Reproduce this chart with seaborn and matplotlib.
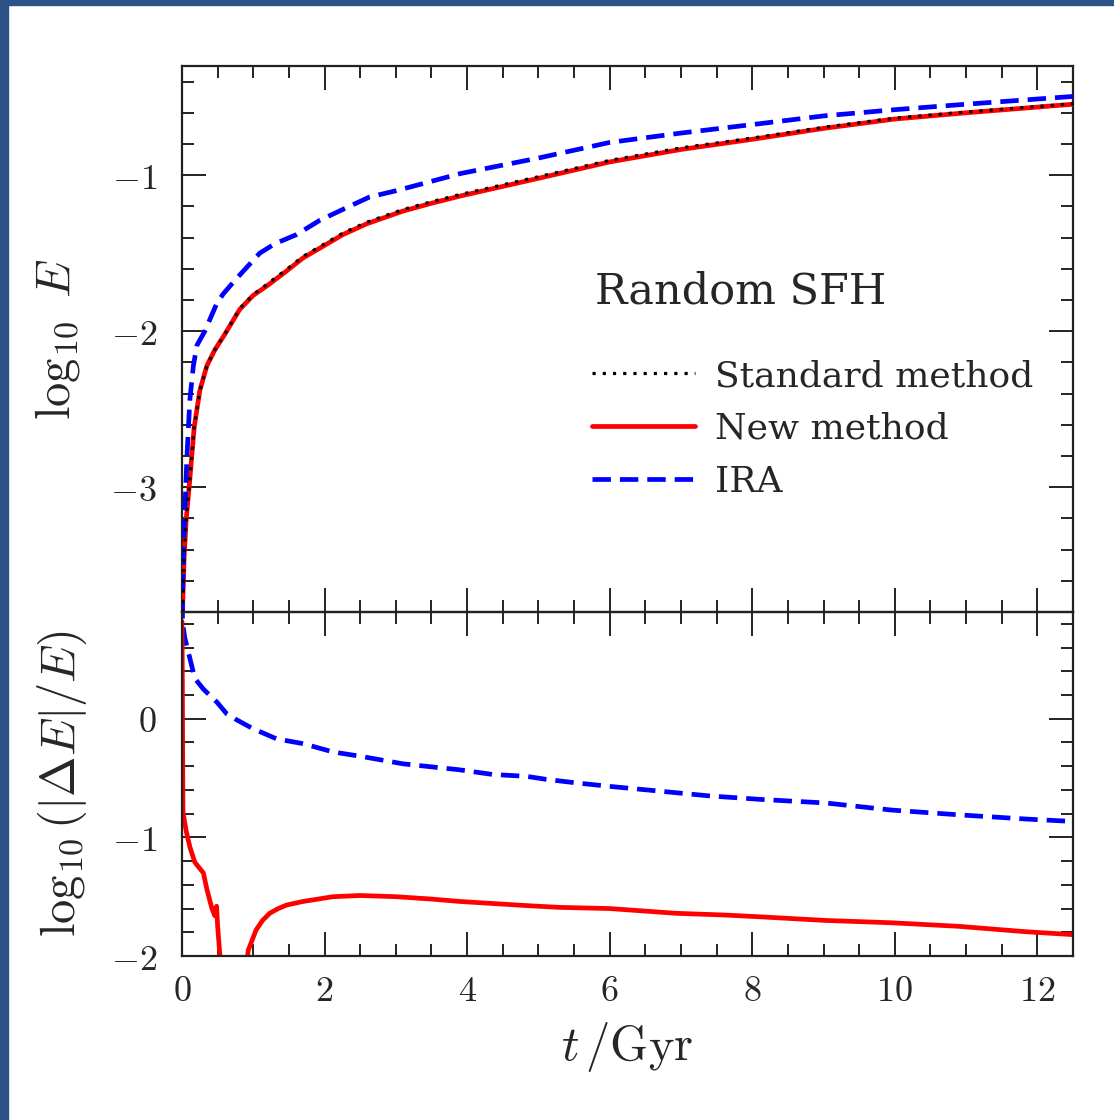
import numpy as np
import pandas as pd
import matplotlib
matplotlib.use("Agg")
import matplotlib.pyplot as plt
import seaborn as sns
from matplotlib.ticker import MultipleLocator, FuncFormatter
from matplotlib.patches import Rectangle

# ---------------- data ----------------
# Top panel: log10 E
t_new = [0.0, 0.01, 0.03, 0.06, 0.11, 0.17, 0.25, 0.35, 0.46, 0.60, 0.81, 1.00,
         1.19, 1.45, 1.70, 2.00, 2.26, 2.60, 3.10, 3.50, 3.90, 5.00, 6.00, 7.00,
         8.00, 9.00, 10.0, 11.0, 12.5]
logE_new = [-4.2, -3.75, -3.45, -3.20, -2.95, -2.62, -2.38, -2.22, -2.12, -2.02,
            -1.86, -1.77, -1.71, -1.62, -1.53, -1.45, -1.38, -1.31, -1.23, -1.18,
            -1.134, -1.02, -0.915, -0.835, -0.77, -0.70, -0.64, -0.60, -0.545]
logE_std = [-4.2, -3.75, -3.45, -3.20, -2.95, -2.62, -2.38, -2.22, -2.12, -2.02,
            -1.855, -1.765, -1.70, -1.61, -1.52, -1.44, -1.37, -1.30, -1.22, -1.17,
            -1.124, -1.01, -0.905, -0.825, -0.762, -0.693, -0.634, -0.595, -0.542]
t_ira = [0.0, 0.005, 0.02, 0.04, 0.07, 0.11, 0.16, 0.21, 0.32, 0.49, 0.58, 0.75,
         0.91, 1.09, 1.30, 1.61, 1.93, 2.30, 2.63, 3.00, 3.33, 3.90, 5.00, 6.00,
         7.00, 8.10, 9.00, 10.0, 11.0, 12.5]
logE_ira = [-4.2, -3.75, -3.45, -3.15, -2.80, -2.44, -2.22, -2.09, -2.00, -1.82,
            -1.76, -1.67, -1.59, -1.50, -1.44, -1.38, -1.29, -1.21, -1.14, -1.10,
            -1.06, -0.99, -0.89, -0.79, -0.73, -0.67, -0.62, -0.58, -0.545, -0.495]

# Bottom panel: log10(|dE|/E)
t_err_ira = [0.0, 0.01, 0.04, 0.11, 0.18, 0.30, 0.49, 0.63, 0.77, 1.00, 1.33,
             1.70, 2.12, 2.54, 3.10, 3.89, 4.36, 4.83, 5.10, 5.52, 6.00, 6.70,
             7.39, 8.12, 9.03, 9.96, 10.9, 11.83, 12.5]
err_ira = [1.0, 0.80, 0.68, 0.51, 0.34, 0.25, 0.14, 0.04, -0.01, -0.085, -0.17,
           -0.21, -0.28, -0.32, -0.38, -0.43, -0.47, -0.485, -0.51, -0.54, -0.57,
           -0.61, -0.65, -0.68, -0.71, -0.77, -0.81, -0.845, -0.866]
t_err_new = [0.0, 0.005, 0.01, 0.014, 0.06, 0.11, 0.18, 0.30, 0.35, 0.42, 0.46,
             0.485, 0.50, 0.53, 0.60, 0.75, 0.86, 0.93, 1.04, 1.13, 1.23, 1.35,
             1.47, 1.70, 2.12, 2.50, 3.00, 3.50, 3.89, 4.83, 5.29, 6.00, 6.93,
             7.63, 8.12, 9.02, 9.96, 10.9, 11.83, 12.5]
err_new = [0.82, 0.30, -0.40, -0.79, -0.95, -1.08, -1.21, -1.30, -1.44, -1.60,
           -1.66, -1.58, -1.75, -1.98, -2.60, -3.00, -2.30, -1.95, -1.78, -1.70,
           -1.64, -1.60, -1.57, -1.54, -1.50, -1.49, -1.50, -1.52, -1.54, -1.575,
           -1.59, -1.60, -1.64, -1.655, -1.67, -1.70, -1.72, -1.75, -1.795, -1.82]

labels = ["Standard method", "New method", "IRA"]
panel_text = "Random SFH"

# ---------------- styling ----------------
sns.set_style("ticks")
plt.rcParams["mathtext.fontset"] = "cm"
plt.rcParams["font.family"] = ["DejaVu Serif", "DejaVu Sans"]

W, H = 1114, 1120
fig = plt.figure(figsize=(W / 100, H / 100), dpi=100)
fig.patch.set_facecolor("white")

# blue frame strips (left and top) as in the reference screenshot
fig.patches.append(Rectangle((0, 0), 8 / W, 1, transform=fig.transFigure,
                             color="#2d5288", zorder=-10))
fig.patches.append(Rectangle((0, 1 - 5 / H), 1, 5 / H, transform=fig.transFigure,
                             color="#2d5288", zorder=-10))

left, right = 182 / W, 1073 / W
y_top, y_mid, y_bot = 1 - 66 / H, 1 - 612 / H, 1 - 956 / H
ax1 = fig.add_axes([left, y_mid, right - left, y_top - y_mid])
ax2 = fig.add_axes([left, y_bot, right - left, y_mid - y_bot], sharex=ax1)

red = "#ff0000"
blue = "#0000ff"
lw = 3.4
ira_style = (0, (3.9, 1.9))
dot_style = (0, (1.0, 2.2))

df_new = pd.DataFrame({"t": t_new, "new": logE_new, "std": logE_std})
df_ira = pd.DataFrame({"t": t_ira, "ira": logE_ira})
sns.lineplot(data=df_new, x="t", y="new", ax=ax1, color=red, lw=lw,
             estimator=None, label=labels[1], zorder=3)
sns.lineplot(data=df_new, x="t", y="std", ax=ax1, color="black", lw=2.3,
             linestyle=dot_style, estimator=None, label=labels[0], zorder=4)
sns.lineplot(data=df_ira, x="t", y="ira", ax=ax1, color=blue, lw=lw,
             linestyle=ira_style, estimator=None, label=labels[2], zorder=3)

df_e1 = pd.DataFrame({"t": t_err_ira, "e": err_ira})
df_e2 = pd.DataFrame({"t": t_err_new, "e": err_new})
sns.lineplot(data=df_e1, x="t", y="e", ax=ax2, color=blue, lw=lw,
             linestyle=ira_style, estimator=None, legend=False)
sns.lineplot(data=df_e2, x="t", y="e", ax=ax2, color=red, lw=lw,
             estimator=None, legend=False)

ax1.set_xlim(0, 12.5)
ax1.set_ylim(-3.8, -0.3)
ax2.set_ylim(-2.0, 0.9)

fmt = FuncFormatter(lambda v, _: r"$%g$" % v)
for ax in (ax1, ax2):
    ax.xaxis.set_major_locator(MultipleLocator(2))
    ax.xaxis.set_minor_locator(MultipleLocator(0.5))
    ax.yaxis.set_major_locator(MultipleLocator(1))
    ax.yaxis.set_minor_locator(MultipleLocator(0.2))
    ax.tick_params(which="both", direction="in", top=True, right=True,
                   width=1.4, color="#222222")
    ax.tick_params(which="major", length=17, labelsize=26)
    ax.tick_params(which="minor", length=8.5)
    ax.tick_params(axis="y", pad=18)
    ax.tick_params(axis="x", pad=13)
    ax.yaxis.set_major_formatter(fmt)
    ax.xaxis.set_major_formatter(fmt)
    for s in ax.spines.values():
        s.set_linewidth(1.6)
        s.set_color("#222222")
    ax.set_facecolor("none")

ax1.tick_params(labelbottom=False)
ax1.set_xlabel("")

ax1.set_ylabel(r"$\log_{10}\ E$", fontsize=35, va="center")
ax1.yaxis.set_label_coords((58 - 182) / 891, 0.5)
ax2.set_ylabel(r"$\log_{10}(|\Delta E|/E)$", fontsize=35, va="center")
ax2.yaxis.set_label_coords((62 - 182) / 891, 0.5)
ax2.set_xlabel(r"$t\,/\mathrm{Gyr}$", fontsize=35, va="center")
ax2.xaxis.set_label_coords(0.5, (956 - 1047) / 344)

# legend
h, l = ax1.get_legend_handles_labels()
order = [l.index(x) for x in labels]
leg = ax1.legend([h[i] for i in order], [l[i] for i in order],
                 loc="upper left", bbox_to_anchor=(592 / W, 1 - 359 / H),
                 bbox_transform=fig.transFigure, frameon=False,
                 fontsize=26, handlelength=2.85, handletextpad=0.55,
                 labelspacing=0.52, borderpad=0, borderaxespad=0)

fig.text(595 / W, 1 - 292 / H, panel_text, fontsize=31, va="center",
         ha="left", family="DejaVu Serif")

fig.savefig("out.png", dpi=100)
